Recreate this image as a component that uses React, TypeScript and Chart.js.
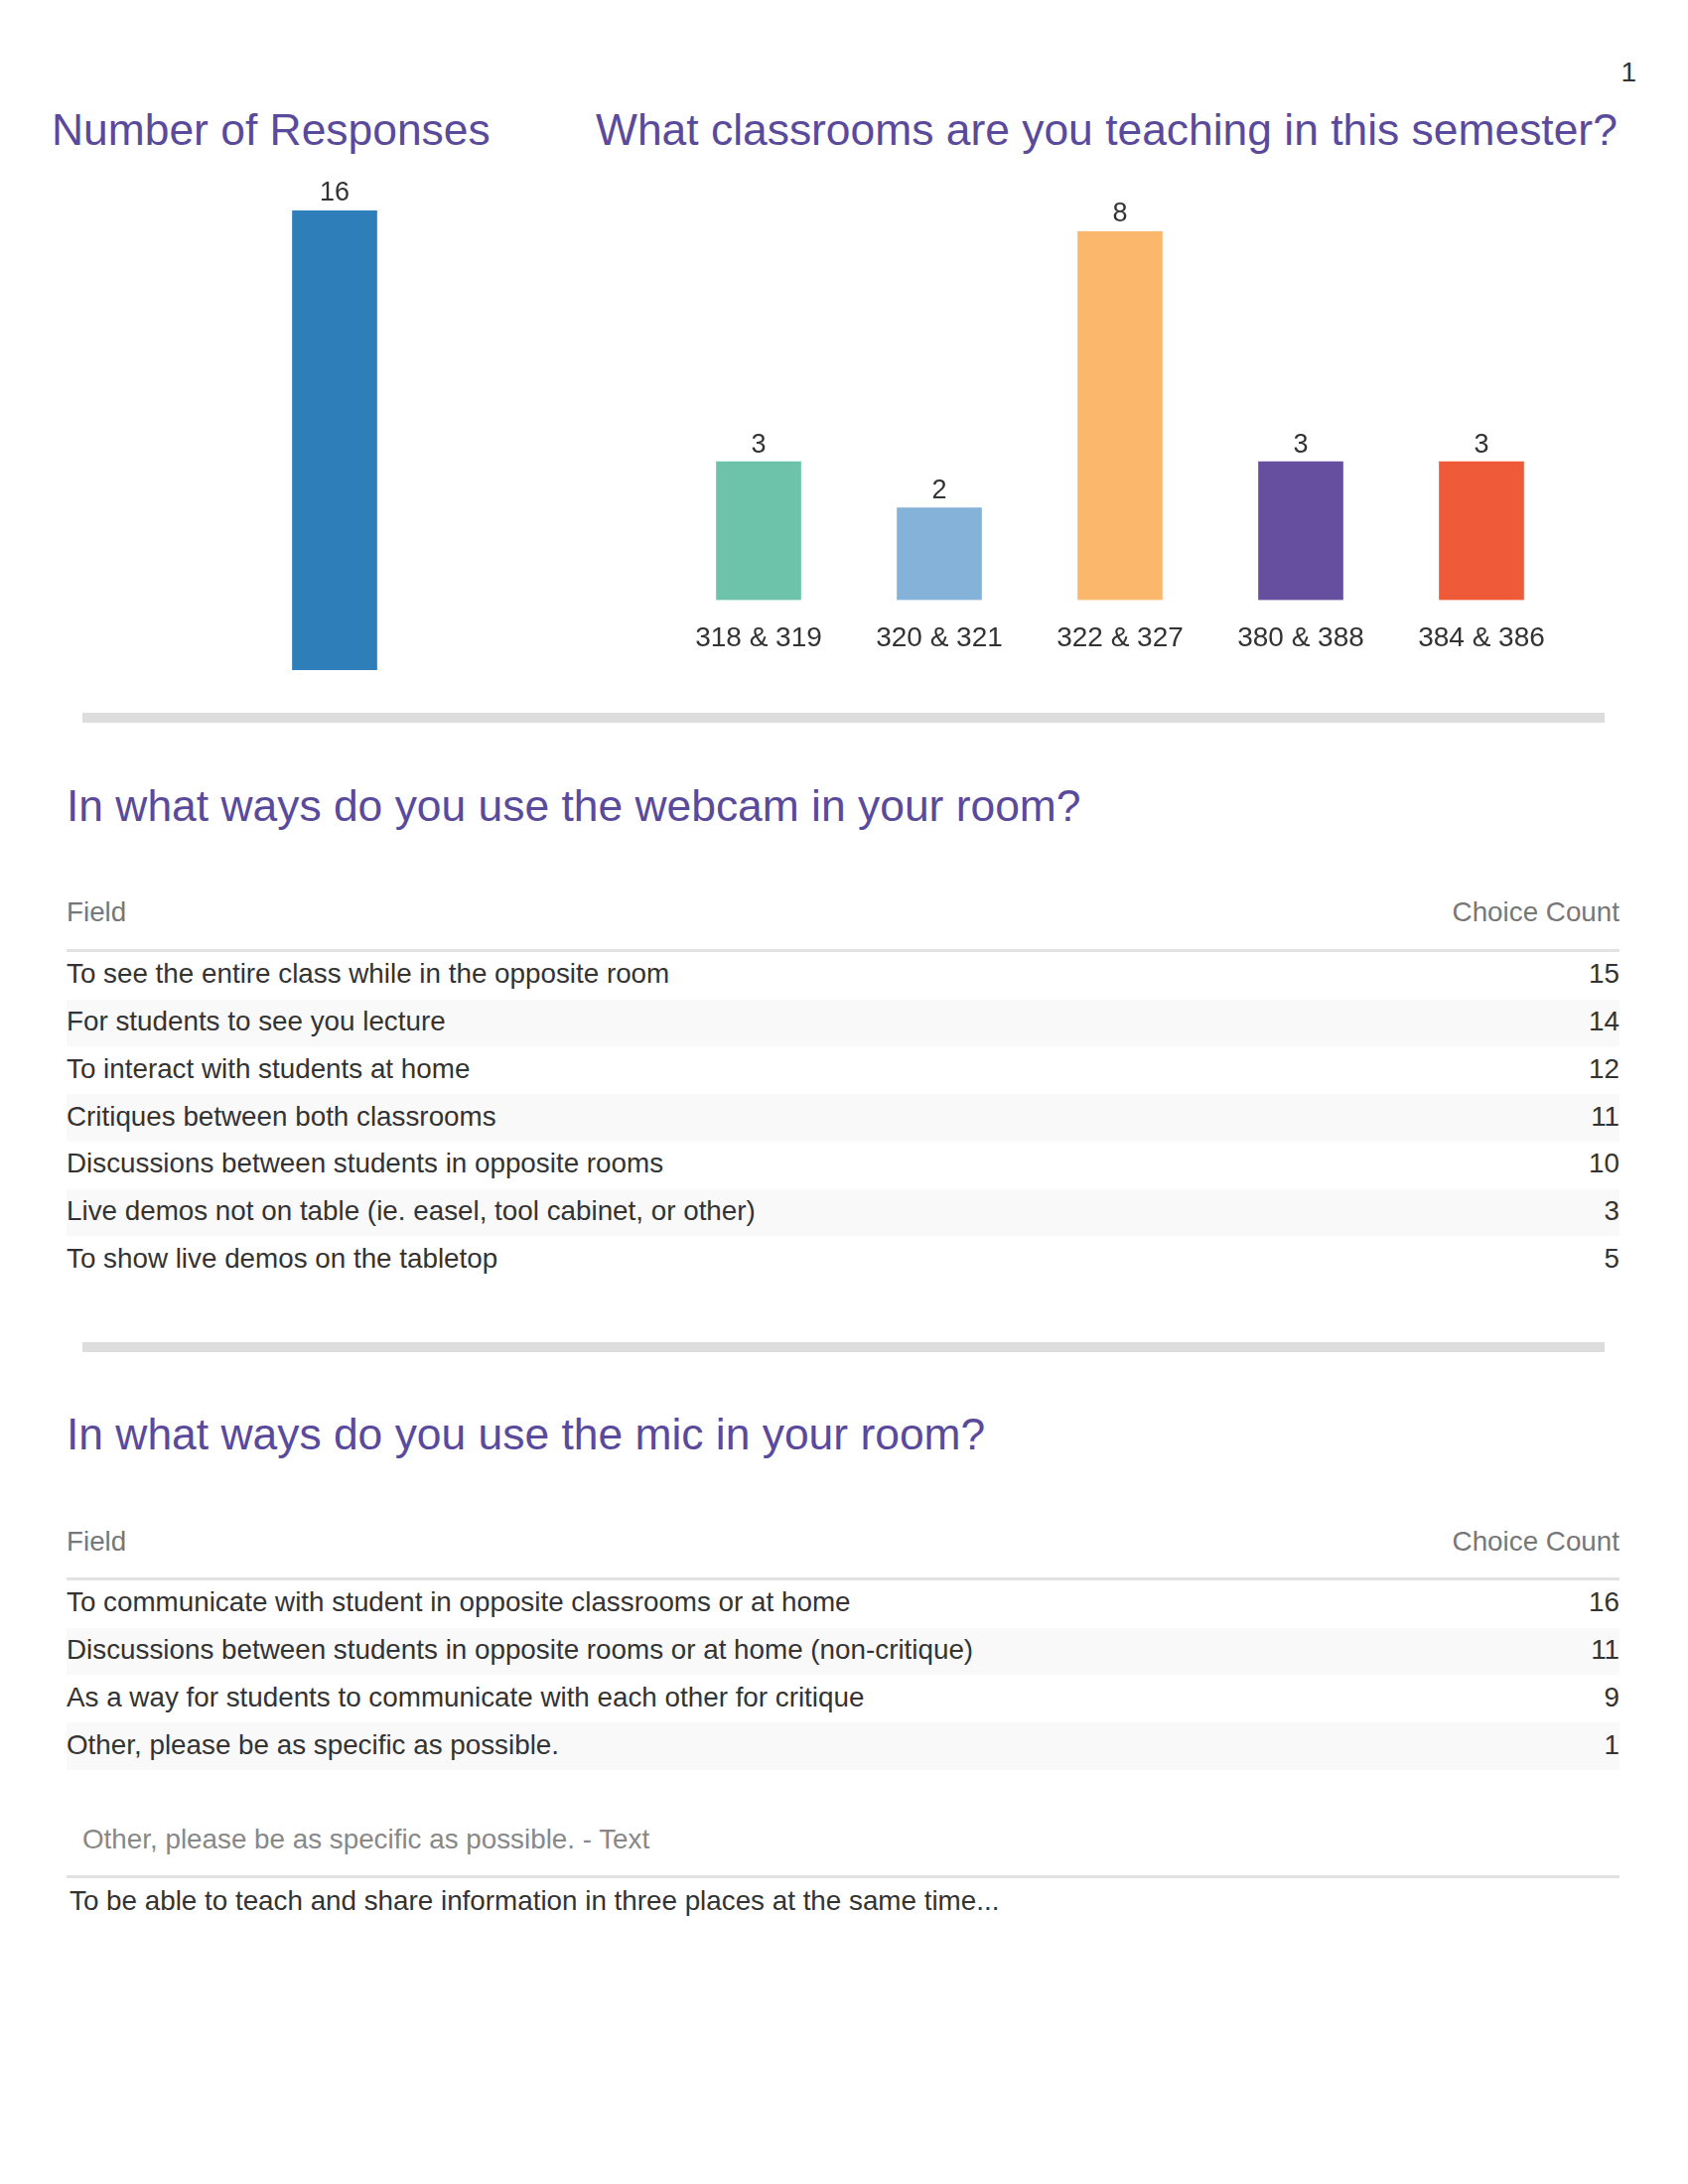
import React, { useEffect, useRef } from "react";
import { Chart, registerables } from "chart.js";

Chart.register(...registerables);

// ---------- data ----------
const responseCategories = ["Responses"];
const responseValues = [16];
const responseColors = ["#2e7eb9"];

const classroomCategories = ["318 & 319", "320 & 321", "322 & 327", "380 & 388", "384 & 386"];
const classroomValues = [3, 2, 8, 3, 3];
const classroomColors = ["#6cc3a9", "#85b2d8", "#fbb76c", "#664f9e", "#ef5b38"];

const webcamFields = [
  "To see the entire class while in the opposite room",
  "For students to see you lecture",
  "To interact with students at home",
  "Critiques between both classrooms",
  "Discussions between students in opposite rooms",
  "Live demos not on table (ie. easel, tool cabinet, or other)",
  "To show live demos on the tabletop",
];
const webcamCounts = [15, 14, 12, 11, 10, 3, 5];

const micFields = [
  "To communicate with student in opposite classrooms or at home",
  "Discussions between students in opposite rooms or at home (non-critique)",
  "As a way for students to communicate with each other for critique",
  "Other, please be as specific as possible.",
];
const micCounts = [16, 11, 9, 1];

const otherTextHeader = "Other, please be as specific as possible. - Text";
const otherTextResponses = ["To be able to teach and share information in three places at the same time..."];

// ---------- styles ----------
const FONT = "'Liberation Sans', Arial, Helvetica, sans-serif";
const PURPLE = "#5a4a9c";
const TEXT = "#333333";
const BODY = 27.8;
const TITLE = 44.4;

const valueLabelPlugin = {
  id: "valueLabels",
  afterDatasetsDraw(chart: any) {
    const ctx = chart.ctx;
    ctx.save();
    ctx.font = `27px ${FONT}`;
    ctx.fillStyle = TEXT;
    ctx.textAlign = "center";
    ctx.textBaseline = "middle";
    chart.data.datasets.forEach((ds: any, di: number) => {
      const meta = chart.getDatasetMeta(di);
      meta.data.forEach((bar: any, i: number) => {
        ctx.fillText(String(ds.data[i]), bar.x, bar.y - 17);
      });
    });
    ctx.restore();
  },
};

function BarChart(props: {
  labels: string[];
  values: number[];
  colors: string[];
  max: number;
  showX: boolean;
  padTop: number;
  padBottom: number;
  barThickness: number;
  style: React.CSSProperties;
  width: number;
  height: number;
}) {
  const ref = useRef<HTMLCanvasElement | null>(null);
  useEffect(() => {
    if (!ref.current) return;
    const chart = new Chart(ref.current, {
      type: "bar",
      data: {
        labels: props.labels,
        datasets: [
          {
            data: props.values,
            backgroundColor: props.colors,
            borderWidth: 0,
            barThickness: props.barThickness,
          },
        ],
      },
      options: {
        responsive: false,
        animation: false,
        maintainAspectRatio: false,
        layout: { padding: { top: props.padTop, bottom: props.padBottom, left: 0, right: 0 } },
        plugins: { legend: { display: false }, tooltip: { enabled: false }, title: { display: false } },
        scales: {
          x: {
            display: props.showX,
            grid: { display: false, drawTicks: false },
            border: { display: false },
            ticks: {
              color: TEXT,
              padding: 22,
              font: { family: FONT, size: 28 },
              maxRotation: 0,
              autoSkip: false,
            },
          },
          y: { display: false, min: 0, max: props.max },
        },
      },
      plugins: [valueLabelPlugin],
    });
    return () => chart.destroy();
  }, []);
  return (
    <canvas
      ref={ref}
      width={props.width}
      height={props.height}
      style={{ position: "absolute", width: props.width, height: props.height, ...props.style }}
    />
  );
}

function Txt(props: {
  x: number;
  baseline: number;
  size: number;
  color: string;
  children: React.ReactNode;
  align?: "left" | "right";
}) {
  const top = props.baseline - 0.8465 * props.size;
  const style: React.CSSProperties = {
    position: "absolute",
    top,
    fontFamily: FONT,
    fontSize: props.size,
    lineHeight: 1,
    color: props.color,
    whiteSpace: "nowrap",
  };
  if (props.align === "right") style.right = 1700 - props.x;
  else style.left = props.x;
  return <div style={style}>{props.children}</div>;
}

function ChoiceTable(props: { title: string; titleBase: number; headerBase: number; lineTop: number; fields: string[]; counts: number[] }) {
  const rowH = 47.7;
  const bandTop0 = props.lineTop + 3;
  return (
    <>
      <Txt x={67} baseline={props.titleBase} size={TITLE} color={PURPLE}>
        {props.title}
      </Txt>
      <Txt x={67} baseline={props.headerBase} size={BODY} color="#777777">
        Field
      </Txt>
      <Txt x={1631} baseline={props.headerBase} size={BODY} color="#777777" align="right">
        Choice Count
      </Txt>
      <div style={{ position: "absolute", left: 67, top: props.lineTop, width: 1564, height: 3, background: "#e2e2e2" }} />
      {props.fields.map((f, i) => (
        <React.Fragment key={i}>
          {i % 2 === 1 && (
            <div
              style={{ position: "absolute", left: 67, top: bandTop0 + i * rowH, width: 1564, height: rowH, background: "#f9f9f9" }}
            />
          )}
          <Txt x={67} baseline={bandTop0 + i * rowH + 32} size={BODY} color={TEXT}>
            {f}
          </Txt>
          <Txt x={1631} baseline={bandTop0 + i * rowH + 32} size={BODY} color={TEXT} align="right">
            {props.counts[i]}
          </Txt>
        </React.Fragment>
      ))}
    </>
  );
}

export default function App() {
  return (
    <div style={{ position: "absolute", left: 0, top: 0, width: 1700, height: 2200, background: "#ffffff", overflow: "hidden" }}>
      <Txt x={1648} baseline={83} size={28} color={TEXT} align="right">
        1
      </Txt>
      <Txt x={52} baseline={147} size={TITLE} color={PURPLE}>
        Number of Responses
      </Txt>
      <Txt x={600} baseline={147} size={TITLE} color={PURPLE}>
        What classrooms are you teaching in this semester?
      </Txt>

      <BarChart
        labels={responseCategories}
        values={responseValues}
        colors={responseColors}
        max={16}
        showX={false}
        padTop={62}
        padBottom={0}
        barThickness={85}
        style={{ left: 187, top: 150 }}
        width={300}
        height={525}
      />
      <BarChart
        labels={classroomCategories}
        values={classroomValues}
        colors={classroomColors}
        max={8}
        showX={true}
        padTop={83}
        padBottom={11}
        barThickness={85}
        style={{ left: 673, top: 150 }}
        width={910}
        height={543}
      />

      <div style={{ position: "absolute", left: 83, top: 718, width: 1533, height: 10, background: "#dddddd" }} />

      <ChoiceTable
        title="In what ways do you use the webcam in your room?"
        titleBase={828}
        headerBase={929}
        lineTop={956}
        fields={webcamFields}
        counts={webcamCounts}
      />

      <div style={{ position: "absolute", left: 83, top: 1352, width: 1533, height: 10, background: "#dddddd" }} />

      <ChoiceTable
        title="In what ways do you use the mic in your room?"
        titleBase={1461}
        headerBase={1563}
        lineTop={1589}
        fields={micFields}
        counts={micCounts}
      />

      <Txt x={83} baseline={1863} size={BODY} color="#888888">
        {otherTextHeader}
      </Txt>
      <div style={{ position: "absolute", left: 67, top: 1889, width: 1564, height: 3, background: "#e2e2e2" }} />
      {otherTextResponses.map((t, i) => (
        <Txt key={i} x={70} baseline={1925 + i * 47.7} size={BODY} color={TEXT}>
          {t}
        </Txt>
      ))}
    </div>
  );
}
